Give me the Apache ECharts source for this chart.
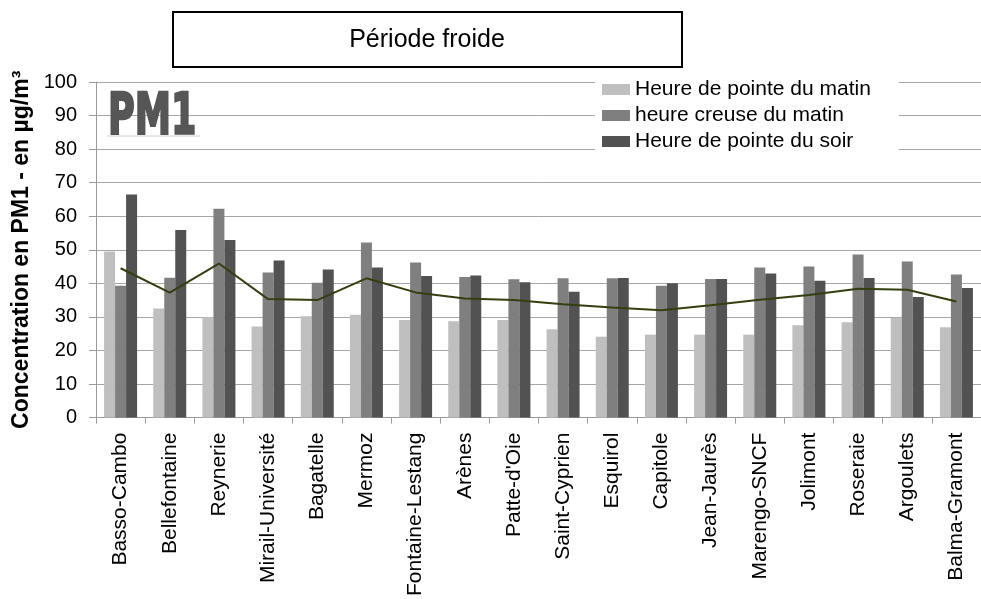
<!DOCTYPE html>
<html>
<head>
<meta charset="utf-8">
<title>PM1 - Période froide</title>
<script src="https://cdn.jsdelivr.net/npm/echarts@6/dist/echarts.min.js"></script>
<style>
    html, body { margin: 0; padding: 0; background: #fff; }
    #chart { width: 981px; height: 599px; }
</style>
</head>
<body>
<div id="chart"></div>
<script>
(function () {
    'use strict';

    var stations = ['Basso-Cambo', 'Bellefontaine', 'Reynerie', 'Mirail-Université', 'Bagatelle', 'Mermoz',
        'Fontaine-Lestang', 'Arènes', "Patte-d'Oie", 'Saint-Cyprien', 'Esquirol', 'Capitole',
        'Jean-Jaurès', 'Marengo-SNCF', 'Jolimont', 'Roseraie', 'Argoulets', 'Balma-Gramont'];

    var pointeMatin = [49.5, 32.5, 29.9, 27.1, 30.2, 30.6, 29.1, 28.7, 29.1, 26.3, 24.1, 24.7,
        24.7, 24.7, 27.5, 28.4, 29.7, 26.9];
    var creuseMatin = [39.3, 41.7, 62.2, 43.2, 40.2, 52.2, 46.2, 41.9, 41.2, 41.5, 41.5, 39.3,
        41.3, 44.7, 45.0, 48.6, 46.5, 42.6];
    var pointeSoir = [66.5, 55.9, 52.9, 46.8, 44.1, 44.7, 42.2, 42.3, 40.3, 37.5, 41.6, 40.0,
        41.3, 42.9, 40.8, 41.6, 35.9, 38.6];
    var moyenne = [44.5, 37.2, 45.9, 35.3, 35.0, 41.5, 37.3, 35.5, 35.0, 33.8, 32.8, 32.0,
        33.5, 35.1, 36.5, 38.4, 38.1, 34.6];

    var seriesNames = ['Heure de pointe du matin', 'heure creuse du matin', 'Heure de pointe du soir'];
    var seriesColors = ['#bfbfbf', '#7f7f7f', '#525252'];

    var FONT = '"Liberation Sans", Arial, sans-serif';

    var chart = echarts.init(document.getElementById('chart'), null, { renderer: 'canvas' });

    function barSeries(idx, values) {
        return {
            name: seriesNames[idx],
            type: 'bar',
            data: values,
            barWidth: 11,
            barGap: '0%',
            itemStyle: { color: seriesColors[idx] },
            silent: true
        };
    }

    chart.setOption({
        animation: false,
        textStyle: { fontFamily: FONT },
        grid: { left: 96, right: -5, top: 82, bottom: 180, containLabel: false },
        legend: {
            data: seriesNames,
            orient: 'vertical',
            left: 595,
            top: 76,
            padding: [3, 28, 3, 7],
            backgroundColor: '#fff',
            itemWidth: 28,
            itemHeight: 11,
            itemGap: 5,
            icon: 'rect',
            textStyle: { fontSize: 21, lineHeight: 21, color: '#000', fontFamily: FONT }
        },
        xAxis: {
            type: 'category',
            data: stations,
            boundaryGap: true,
            axisLine: { lineStyle: { color: '#9a9a9a', width: 1 } },
            axisTick: { show: true, interval: 0, length: 6, lineStyle: { color: '#9a9a9a' } },
            axisLabel: { interval: 0, rotate: 90, fontSize: 21, color: '#000', margin: 15, fontFamily: FONT }
        },
        yAxis: {
            type: 'value',
            min: 0,
            max: 100,
            interval: 10,
            name: 'Concentration en PM1 - en µg/m³',
            nameLocation: 'middle',
            nameGap: 63,
            nameTextStyle: { fontSize: 23, fontWeight: 'bold', color: '#000', fontFamily: FONT },
            axisLine: { show: true, lineStyle: { color: '#9a9a9a', width: 1 } },
            axisTick: { show: true, length: 7, lineStyle: { color: '#9a9a9a' } },
            axisLabel: { fontSize: 20, color: '#000', margin: 19, fontFamily: FONT },
            splitLine: { show: true, lineStyle: { color: '#a6a6a6', width: 1 } }
        },
        series: [
            barSeries(0, pointeMatin),
            barSeries(1, creuseMatin),
            barSeries(2, pointeSoir),
            {
                name: 'Moyenne',
                type: 'line',
                data: moyenne,
                symbol: 'none',
                lineStyle: { color: '#333f10', width: 2 },
                z: 5,
                silent: true
            }
        ],
        graphic: [
            {
                type: 'rect',
                shape: { x: 173, y: 12, width: 509, height: 55 },
                style: { fill: '#fff', stroke: '#000', lineWidth: 2 },
                z: 10
            },
            {
                type: 'text',
                x: 427,
                y: 40,
                style: {
                    text: 'Période froide',
                    fill: '#000',
                    font: '25px ' + FONT,
                    align: 'center',
                    verticalAlign: 'middle'
                },
                z: 11
            },
            {
                type: 'text',
                x: 108,
                y: 119,
                scaleX: 0.64,
                style: {
                    text: 'PM1',
                    fill: '#565656',
                    stroke: '#565656',
                    lineWidth: 2.5,
                    font: 'bold 57px "DejaVu Sans", sans-serif',
                    align: 'left',
                    verticalAlign: 'middle'
                },
                z: 11
            },
            {
                type: 'line',
                shape: { x1: 107, y1: 136, x2: 200, y2: 136 },
                style: { stroke: '#d0d0d0', lineWidth: 1 },
                z: 10
            }
        ]
    });

    window.addEventListener('resize', function () {
        chart.resize();
    });
})();
</script>
</body>
</html>
